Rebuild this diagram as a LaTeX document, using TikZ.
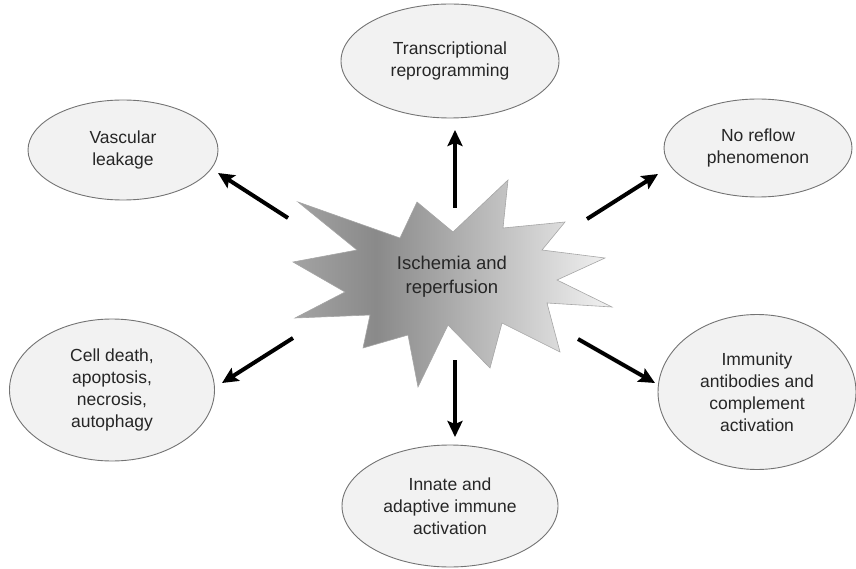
\documentclass[tikz,border=0pt]{standalone}
\usepackage{fontspec}
\setmainfont{Liberation Sans}
\usetikzlibrary{shapes.geometric,arrows.meta}
\definecolor{starA}{gray}{0.64}
\definecolor{starB}{gray}{0.54}
\definecolor{starC}{gray}{0.95}
\definecolor{ellfill}{gray}{0.95}
\definecolor{ellline}{gray}{0.45}
\definecolor{txt}{gray}{0.15}
\pgfdeclarehorizontalshading{starshade}{100bp}{color(0bp)=(starA); color(25bp)=(starA); color(38bp)=(starB); color(75bp)=(starC); color(100bp)=(starC)}
\begin{document}
\begin{tikzpicture}[x=1pt,y=-1pt,
  ell/.style={ellipse, draw=ellline, line width=0.9pt, fill=ellfill, inner sep=0pt,
    align=center, text=txt, font=\fontsize{17.5}{22}\selectfont},
  arr/.style={line width=4pt, -{Stealth[length=16pt,width=15pt,inset=3pt]}},
  lbl/.style={align=center, text=txt, font=\fontsize{18.5}{24}\selectfont}]
\useasboundingbox (0,0) rectangle (856,569);
% star
\path[shading=starshade, draw=gray!70, line width=0.6pt]
  (298,202) -- (400,238) -- (417,202) -- (453,232) -- (508,180) -- (503,228)
  -- (565,222) -- (542,250) -- (605,258) -- (557,280) -- (612,307) -- (547,303)
  -- (560,352) -- (502,323) -- (490,368) -- (448,325) -- (418,387) -- (408,335)
  -- (363,348) -- (370,315) -- (295,318) -- (345,292) -- (293,262) -- (357,250) -- cycle;
\node[lbl] (core) at (452,277) {Ischemia and\\reperfusion};
% outcome ellipses
\node[ell, minimum width=218pt, minimum height=114pt] (trans) at (450,61) {Transcriptional\\reprogramming};
\node[ell, minimum width=190pt, minimum height=100pt] (vasc) at (123,150) {Vascular\\leakage};
\node[ell, minimum width=188pt, minimum height=98pt] (noref) at (758,148) {No reflow\\phenomenon};
\node[ell, minimum width=205pt, minimum height=142pt] (cell) at (112,390) {Cell death,\\apoptosis,\\necrosis,\\autophagy};
\node[ell, minimum width=198pt, minimum height=155pt] (immun) at (757,392) {Immunity\\antibodies and\\complement\\activation};
\node[ell, minimum width=216pt, minimum height=122pt] (innate) at (450,506) {Innate and\\adaptive immune\\activation};
% arrow ends
\coordinate (uT) at (455,208);  \coordinate (uH) at (455,130);
\coordinate (ulT) at (288,218); \coordinate (ulH) at (218,173);
\coordinate (urT) at (587,219); \coordinate (urH) at (658,174);
\coordinate (dlT) at (293,338); \coordinate (dlH) at (222,383);
\coordinate (drT) at (578,339); \coordinate (drH) at (655,383);
\coordinate (dT) at (455,360);  \coordinate (dH) at (455,437);
\draw[arr] (uT) -- (uH);
\draw[arr] (ulT) -- (ulH);
\draw[arr] (urT) -- (urH);
\draw[arr] (dlT) -- (dlH);
\draw[arr] (drT) -- (drH);
\draw[arr] (dT) -- (dH);
\end{tikzpicture}
\end{document}
